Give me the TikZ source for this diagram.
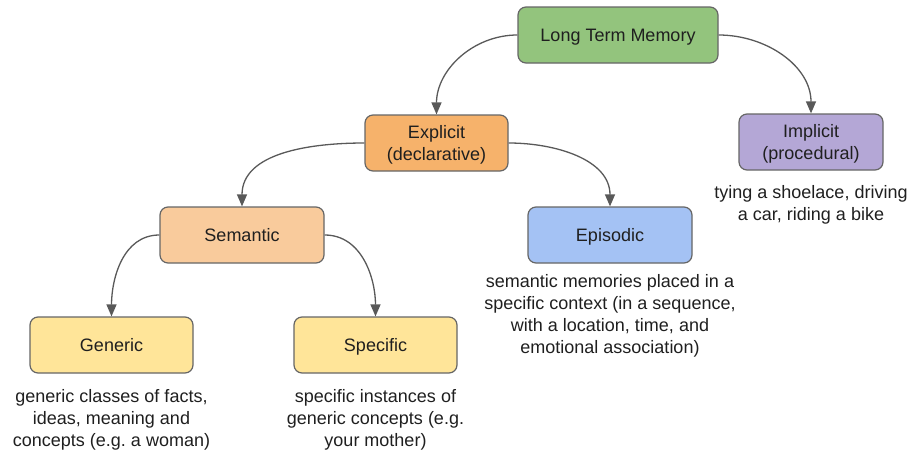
\documentclass[tikz,border=0pt]{standalone}
\usepackage{fontspec}
\setmainfont{Liberation Sans}
\usetikzlibrary{positioning,arrows.meta}
\frenchspacing

\definecolor{ltmgreen}{HTML}{93C47D}
\definecolor{explorange}{HTML}{F6B26B}
\definecolor{implpurple}{HTML}{B4A7D6}
\definecolor{semorange}{HTML}{F9CB9C}
\definecolor{epiblue}{HTML}{A4C2F4}
\definecolor{leafyellow}{HTML}{FFE599}
\definecolor{boxedge}{HTML}{666666}
\definecolor{linkgray}{HTML}{595959}
\definecolor{txt}{HTML}{1F1F1F}

\begin{document}
\begin{tikzpicture}[x=1pt,y=1pt,
  box/.style={draw=boxedge, line width=1.2pt, rounded corners=8pt,
    minimum height=56pt, align=center, text=txt, text depth=0pt,
    font=\fontsize{18}{22}\selectfont},
  note/.style={inner sep=0pt, align=center, text=txt,
    font=\fontsize{18}{22}\selectfont},
  link/.style={draw=linkgray, line width=1.3pt,
    -{Triangle[length=12pt,width=10pt]}}]

\useasboundingbox (0,0) rectangle (923,-455);

% Boxes (pixel positions, y downwards)
\node[box, fill=ltmgreen, minimum width=200pt] (ltm) at (618,-35) {Long Term Memory};
\node[box, fill=explorange, minimum width=143pt] (expl) at (436.5,-143) {Explicit\\(declarative)};
\node[box, fill=implpurple, minimum width=144pt] (impl) at (811,-142) {Implicit\\(procedural)};
\node[box, fill=semorange, minimum width=164pt] (sem) at (242,-235) {Semantic};
\node[box, fill=epiblue, minimum width=164pt] (epi) at (610,-235) {Episodic};
\node[box, fill=leafyellow, minimum width=163pt] (gen) at (111.5,-345) {Generic};
\node[box, fill=leafyellow, minimum width=163pt] (spec) at (375.5,-345) {Specific};

% Descriptions
\node[note, below=15pt of impl] (implnote) {tying a shoelace, driving\\a car, riding a bike};
\node[note, below=10.5pt of epi] (epinote) {semantic memories placed in a\\specific context (in a sequence,\\with a location, time, and\\emotional association)};
\node[note, below=16pt of gen] (gennote) {generic classes of facts,\\ideas, meaning and\\concepts (e.g. a woman)};
\node[note, below=16pt of spec] (specnote) {specific instances of\\generic concepts (e.g.\\your mother)};

% Links
\draw[link] (ltm.west) to[out=180,in=90] (expl.north);
\draw[link] (ltm.east) to[out=0,in=90] (impl.north);
\draw[link] (expl.west) to[out=180,in=90] (sem.north);
\draw[link] (expl.east) to[out=0,in=90] (epi.north);
\draw[link] (sem.west) to[out=180,in=90] (gen.north);
\draw[link] (sem.east) to[out=0,in=90] (spec.north);
\end{tikzpicture}
\end{document}
